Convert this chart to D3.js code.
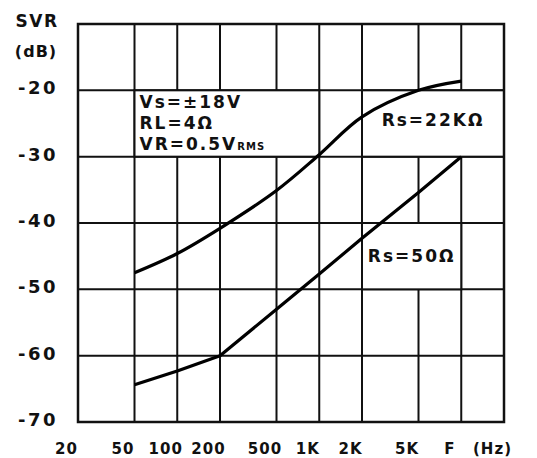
<!DOCTYPE html>
<html>
<head>
<meta charset="utf-8">
<script src="https://cdn.jsdelivr.net/npm/d3@7"></script>
<style>
  body { margin: 0; background: #fff; }
  svg { display: block; }
  text { font-family: "DejaVu Sans", sans-serif; font-weight: bold; fill: #111; }
</style>
</head>
<body>
<div id="chart"></div>
<script>
var width = 537;
var height = 458;

// grid / axis values
var freqTicks = [20, 50, 100, 200, 500, 1000, 2000, 5000, 10000, 20000];
var freqLabels = ["20", "50", "100", "200", "500", "1K", "2K", "5K", "F", "(Hz)"];
var dbGrid = [-10, -20, -30, -40, -50, -60, -70];
var dbTicks = [-20, -30, -40, -50, -60, -70];

// curves at the grid frequencies
var curveFreqs = [50, 100, 200, 500, 1000, 2000, 5000, 10000];
var svr22k = [-47.5, -44.6, -40.8, -35.1, -29.7, -24, -20, -18.6];
var svr50 = [-64.4, -62.3, -60, -53, -47.7, -42.3, -35.4, -30];

// test conditions
var conditions = ["Vs=\u00b118V", "RL=4\u03a9", "VR=0.5V"];

var xScale = d3.scaleLog().domain([20, 20000]).range([78, 504]);
var yScale = d3.scaleLinear().domain([-70, -10]).range([422, 24]);

var svg = d3.select("#chart")
    .append("svg")
    .attr("width", width)
    .attr("height", height);

var gridG = svg.append("g")
    .attr("stroke", "#111")
    .attr("stroke-width", 2);

// vertical grid lines
gridG.selectAll(".vline")
    .data(freqTicks)
    .enter()
    .append("line")
    .attr("x1", function(d) { return xScale(d); })
    .attr("x2", function(d) { return xScale(d); })
    .attr("y1", yScale(-10))
    .attr("y2", yScale(-70));

// horizontal grid lines
gridG.selectAll(".hline")
    .data(dbGrid)
    .enter()
    .append("line")
    .attr("x1", xScale(20))
    .attr("x2", xScale(20000))
    .attr("y1", function(d) { return yScale(d); })
    .attr("y2", function(d) { return yScale(d); });

// white boxes behind the notes (they hide the inner grid lines)
var boxes = [
    { f: [50, 1000], db: [-20, -30] },
    { f: [2000, 20000], db: [-20, -30] },
    { f: [2000, 10000], db: [-40, -50] }
];
svg.selectAll(".box")
    .data(boxes)
    .enter()
    .append("rect")
    .attr("x", function(d) { return xScale(d.f[0]); })
    .attr("y", function(d) { return yScale(d.db[0]); })
    .attr("width", function(d) { return xScale(d.f[1]) - xScale(d.f[0]); })
    .attr("height", function(d) { return yScale(d.db[1]) - yScale(d.db[0]); })
    .attr("fill", "#fff")
    .attr("stroke", "#111")
    .attr("stroke-width", 2);

// frame
svg.append("rect")
    .attr("x", xScale(20))
    .attr("y", yScale(-10))
    .attr("width", xScale(20000) - xScale(20))
    .attr("height", yScale(-70) - yScale(-10))
    .attr("fill", "none")
    .attr("stroke", "#111")
    .attr("stroke-width", 2.5);

// curves
var line22k = d3.line()
    .x(function(d, i) { return xScale(curveFreqs[i]); })
    .y(function(d) { return yScale(d); })
    .curve(d3.curveCatmullRom.alpha(0.5));

var line50 = d3.line()
    .x(function(d, i) { return xScale(curveFreqs[i]); })
    .y(function(d) { return yScale(d); });

svg.append("path")
    .datum(svr22k)
    .attr("d", line22k)
    .attr("fill", "none")
    .attr("stroke", "#000")
    .attr("stroke-width", 3.2)
    .attr("stroke-linejoin", "round");

svg.append("path")
    .datum(svr50)
    .attr("d", line50)
    .attr("fill", "none")
    .attr("stroke", "#000")
    .attr("stroke-width", 3.2)
    .attr("stroke-linejoin", "round");

// axes
var yAxis = d3.axisLeft(yScale)
    .tickValues(dbTicks)
    .tickSize(0)
    .tickPadding(20)
    .tickFormat(function(d) { return d; });

var yAxisG = svg.append("g")
    .attr("transform", "translate(" + xScale(20) + ",0)")
    .call(yAxis);
yAxisG.select(".domain").remove();
yAxisG.selectAll("text")
    .style("font-size", "18px")
    .style("letter-spacing", "2.5px")
    .attr("dy", "0.2em");

var xAxis = d3.axisBottom(xScale)
    .tickValues(freqTicks)
    .tickSize(0)
    .tickPadding(21)
    .tickFormat(function(d, i) { return freqLabels[i]; });

var xAxisG = svg.append("g")
    .attr("transform", "translate(0," + yScale(-70) + ")")
    .call(xAxis);
xAxisG.select(".domain").remove();
xAxisG.selectAll("text")
    .style("font-size", "15px")
    .style("letter-spacing", "1px")
    .attr("dx", -12);

// unit label
svg.append("text")
    .attr("x", 37)
    .attr("y", 27)
    .attr("text-anchor", "middle")
    .style("font-size", "17px")
    .style("letter-spacing", "1.5px")
    .text("SVR");
svg.append("text")
    .attr("x", 36)
    .attr("y", 57)
    .attr("text-anchor", "middle")
    .style("font-size", "16px")
    .style("letter-spacing", "1px")
    .text("(dB)");

// conditions note
var noteG = svg.append("text")
    .attr("x", xScale(50) + 5)
    .attr("y", yScale(-20) + 18)
    .style("font-size", "17px")
    .style("letter-spacing", "2px");
noteG.selectAll("tspan")
    .data(conditions)
    .enter()
    .append("tspan")
    .attr("x", xScale(50) + 5)
    .attr("dy", function(d, i) { return i == 0 ? 0 : 21; })
    .text(function(d) { return d; });
noteG.select("tspan:last-child")
    .append("tspan")
    .style("font-size", "10px")
    .style("letter-spacing", "1px")
    .text("RMS");

// curve labels
svg.append("text")
    .attr("x", (xScale(2000) + xScale(20000)) / 2)
    .attr("y", (yScale(-20) + yScale(-30)) / 2 + 2)
    .attr("text-anchor", "middle")
    .style("font-size", "17px")
    .style("letter-spacing", "2px")
    .text("Rs=22K\u03a9");

svg.append("text")
    .attr("x", (xScale(2000) + xScale(10000)) / 2)
    .attr("y", (yScale(-40) + yScale(-50)) / 2 + 6)
    .attr("text-anchor", "middle")
    .style("font-size", "17px")
    .style("letter-spacing", "2px")
    .text("Rs=50\u03a9");
</script>
</body>
</html>
